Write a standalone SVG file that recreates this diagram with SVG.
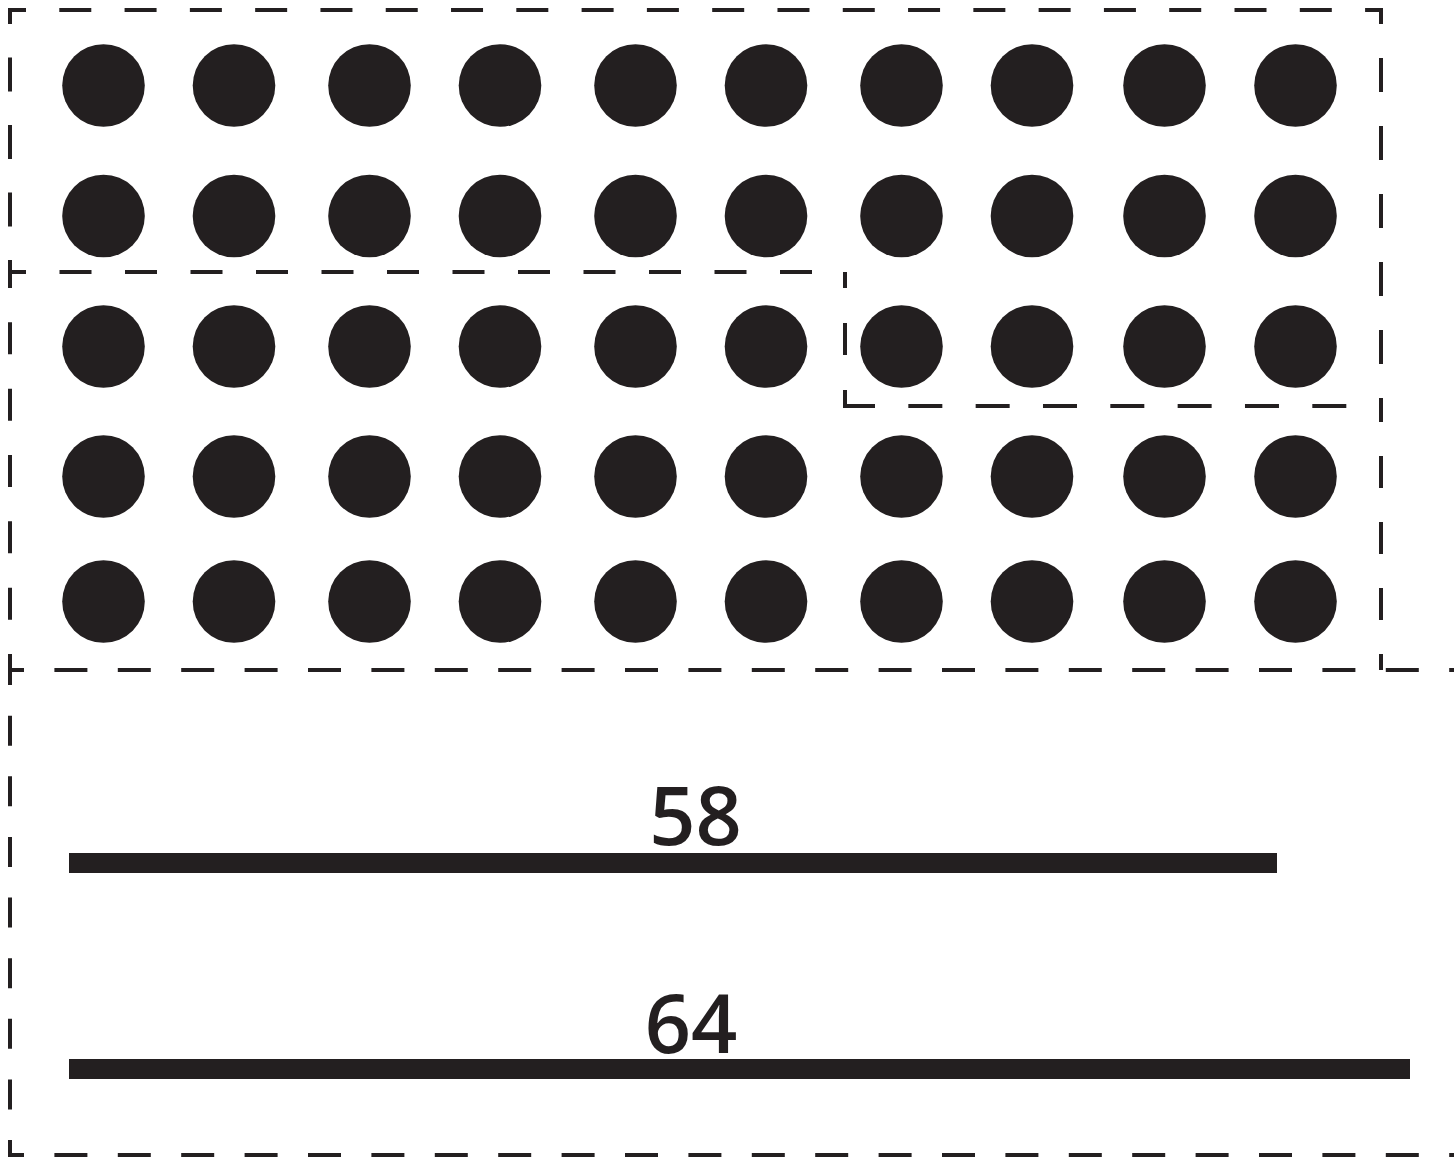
<svg xmlns="http://www.w3.org/2000/svg" width="1454" height="1158" viewBox="0 0 1454 1158">
<style>
.d{stroke:#231f20;stroke-width:4;fill:none}
.dot{fill:#231f20}
.bar{fill:#231f20}
.lbl{font-family:"Open Sans","Noto Sans",sans-serif;font-weight:600;font-size:81px;fill:#231f20;text-anchor:middle}
</style>
<rect width="1454" height="1158" fill="#ffffff"/>
<g id="frames">
<line class="d" x1="10" y1="10" x2="1381" y2="10" stroke-dasharray="32 33.29" stroke-dashoffset="16"/>
<line class="d" x1="1381" y1="8" x2="1381" y2="406" stroke-dasharray="34 34" stroke-dashoffset="18"/>
<line class="d" x1="1381" y1="406" x2="1381" y2="670" stroke-dasharray="32 34" stroke-dashoffset="16"/>
<line class="d" x1="10" y1="8" x2="10" y2="272" stroke-dasharray="34 33.5" stroke-dashoffset="18"/>
<line class="d" x1="10" y1="272" x2="10" y2="670" stroke-dasharray="32 34.33" stroke-dashoffset="16"/>
<line class="d" x1="10" y1="272" x2="845" y2="272" stroke-dasharray="32 33.5" stroke-dashoffset="16"/>
<line class="d" x1="845" y1="272" x2="845" y2="406" stroke-dasharray="32 35" stroke-dashoffset="16"/>
<line class="d" x1="843" y1="406" x2="1381" y2="406" stroke-dasharray="34 33.33" stroke-dashoffset="2"/>
<line class="d" x1="8" y1="670" x2="1470" y2="670" stroke-dasharray="33 30.4" stroke-dashoffset="17"/>
<line class="d" x1="10" y1="670" x2="10" y2="1157" stroke-dasharray="30 30.625" stroke-dashoffset="15"/>
<line class="d" x1="8" y1="1155" x2="1470" y2="1155" stroke-dasharray="33 30.4" stroke-dashoffset="17"/>
</g>
<g id="dots">
<g id="row1">
<circle class="dot" cx="103.5" cy="85.5" r="41.3"/><circle class="dot" cx="234" cy="85.5" r="41.3"/><circle class="dot" cx="369.5" cy="85.5" r="41.3"/><circle class="dot" cx="500" cy="85.5" r="41.3"/><circle class="dot" cx="635.5" cy="85.5" r="41.3"/><circle class="dot" cx="766" cy="85.5" r="41.3"/><circle class="dot" cx="901.5" cy="85.5" r="41.3"/><circle class="dot" cx="1032" cy="85.5" r="41.3"/><circle class="dot" cx="1164.5" cy="85.5" r="41.3"/><circle class="dot" cx="1295.5" cy="85.5" r="41.3"/>
</g>
<g id="row2">
<circle class="dot" cx="103.5" cy="216" r="41.3"/><circle class="dot" cx="234" cy="216" r="41.3"/><circle class="dot" cx="369.5" cy="216" r="41.3"/><circle class="dot" cx="500" cy="216" r="41.3"/><circle class="dot" cx="635.5" cy="216" r="41.3"/><circle class="dot" cx="766" cy="216" r="41.3"/><circle class="dot" cx="901.5" cy="216" r="41.3"/><circle class="dot" cx="1032" cy="216" r="41.3"/><circle class="dot" cx="1164.5" cy="216" r="41.3"/><circle class="dot" cx="1295.5" cy="216" r="41.3"/>
</g>
<g id="row3">
<circle class="dot" cx="103.5" cy="346.5" r="41.3"/><circle class="dot" cx="234" cy="346.5" r="41.3"/><circle class="dot" cx="369.5" cy="346.5" r="41.3"/><circle class="dot" cx="500" cy="346.5" r="41.3"/><circle class="dot" cx="635.5" cy="346.5" r="41.3"/><circle class="dot" cx="766" cy="346.5" r="41.3"/><circle class="dot" cx="901.5" cy="346.5" r="41.3"/><circle class="dot" cx="1032" cy="346.5" r="41.3"/><circle class="dot" cx="1164.5" cy="346.5" r="41.3"/><circle class="dot" cx="1295.5" cy="346.5" r="41.3"/>
</g>
<g id="row4">
<circle class="dot" cx="103.5" cy="476.5" r="41.3"/><circle class="dot" cx="234" cy="476.5" r="41.3"/><circle class="dot" cx="369.5" cy="476.5" r="41.3"/><circle class="dot" cx="500" cy="476.5" r="41.3"/><circle class="dot" cx="635.5" cy="476.5" r="41.3"/><circle class="dot" cx="766" cy="476.5" r="41.3"/><circle class="dot" cx="901.5" cy="476.5" r="41.3"/><circle class="dot" cx="1032" cy="476.5" r="41.3"/><circle class="dot" cx="1164.5" cy="476.5" r="41.3"/><circle class="dot" cx="1295.5" cy="476.5" r="41.3"/>
</g>
<g id="row5">
<circle class="dot" cx="103.5" cy="601.5" r="41.3"/><circle class="dot" cx="234" cy="601.5" r="41.3"/><circle class="dot" cx="369.5" cy="601.5" r="41.3"/><circle class="dot" cx="500" cy="601.5" r="41.3"/><circle class="dot" cx="635.5" cy="601.5" r="41.3"/><circle class="dot" cx="766" cy="601.5" r="41.3"/><circle class="dot" cx="901.5" cy="601.5" r="41.3"/><circle class="dot" cx="1032" cy="601.5" r="41.3"/><circle class="dot" cx="1164.5" cy="601.5" r="41.3"/><circle class="dot" cx="1295.5" cy="601.5" r="41.3"/>
</g>
</g>
<g id="bar58">
<rect class="bar" x="69" y="853" width="1208" height="20"/>
<text class="lbl" x="695.5" y="845">58</text>
</g>
<g id="bar64">
<rect class="bar" x="69" y="1059" width="1341" height="20"/>
<text class="lbl" x="691" y="1053">64</text>
</g>
</svg>
